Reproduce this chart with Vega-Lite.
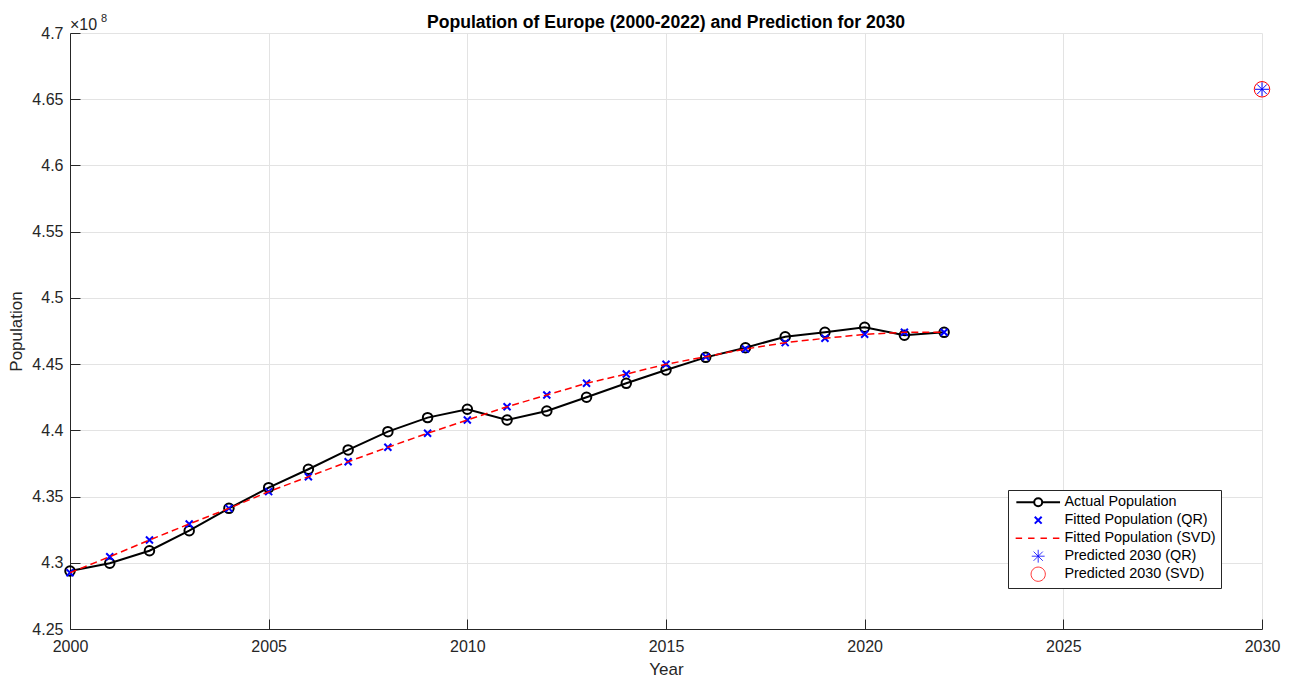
{
  "$schema": "https://vega.github.io/schema/vega-lite/v6.json",
  "width": 1192,
  "height": 596,
  "autosize": {"type": "none"},
  "padding": {"left": 70, "top": 33, "right": 28, "bottom": 53},
  "background": "white",
  "config": {
    "view": {"stroke": null},
    "font": "Liberation Sans",
    "axis": {
      "domainColor": "#262626",
      "domainWidth": 1,
      "tickColor": "#262626",
      "tickSize": -10,
      "gridColor": "#e3e3e3",
      "gridWidth": 1,
      "labelColor": "#262626",
      "labelFont": "Liberation Sans",
      "labelFontSize": 16,
      "titleColor": "#262626",
      "titleFont": "Liberation Sans",
      "titleFontSize": 17,
      "titleFontWeight": "normal"
    }
  },
  "title": {
    "text": "Population of Europe (2000-2022) and Prediction for 2030",
    "font": "Liberation Sans",
    "fontSize": 17.6,
    "fontWeight": "bold",
    "color": "#000000",
    "anchor": "middle",
    "offset": 4,
    "dy": 23
  },
  "datasets": {
    "pop": [
      {"year": 2000, "series": "Actual Population", "population": 429380000},
      {"year": 2001, "series": "Actual Population", "population": 429960000},
      {"year": 2002, "series": "Actual Population", "population": 430910000},
      {"year": 2003, "series": "Actual Population", "population": 432420000},
      {"year": 2004, "series": "Actual Population", "population": 434110000},
      {"year": 2005, "series": "Actual Population", "population": 435670000},
      {"year": 2006, "series": "Actual Population", "population": 437060000},
      {"year": 2007, "series": "Actual Population", "population": 438520000},
      {"year": 2008, "series": "Actual Population", "population": 439900000},
      {"year": 2009, "series": "Actual Population", "population": 440960000},
      {"year": 2010, "series": "Actual Population", "population": 441590000},
      {"year": 2011, "series": "Actual Population", "population": 440780000},
      {"year": 2012, "series": "Actual Population", "population": 441460000},
      {"year": 2013, "series": "Actual Population", "population": 442500000},
      {"year": 2014, "series": "Actual Population", "population": 443550000},
      {"year": 2015, "series": "Actual Population", "population": 444560000},
      {"year": 2016, "series": "Actual Population", "population": 445510000},
      {"year": 2017, "series": "Actual Population", "population": 446240000},
      {"year": 2018, "series": "Actual Population", "population": 447070000},
      {"year": 2019, "series": "Actual Population", "population": 447400000},
      {"year": 2020, "series": "Actual Population", "population": 447780000},
      {"year": 2021, "series": "Actual Population", "population": 447180000},
      {"year": 2022, "series": "Actual Population", "population": 447400000},
      {"year": 2000, "series": "Fitted Population (QR)", "population": 429250000},
      {"year": 2001, "series": "Fitted Population (QR)", "population": 430460000},
      {"year": 2002, "series": "Fitted Population (QR)", "population": 431720000},
      {"year": 2003, "series": "Fitted Population (QR)", "population": 432930000},
      {"year": 2004, "series": "Fitted Population (QR)", "population": 434110000},
      {"year": 2005, "series": "Fitted Population (QR)", "population": 435370000},
      {"year": 2006, "series": "Fitted Population (QR)", "population": 436500000},
      {"year": 2007, "series": "Fitted Population (QR)", "population": 437630000},
      {"year": 2008, "series": "Fitted Population (QR)", "population": 438720000},
      {"year": 2009, "series": "Fitted Population (QR)", "population": 439780000},
      {"year": 2010, "series": "Fitted Population (QR)", "population": 440780000},
      {"year": 2011, "series": "Fitted Population (QR)", "population": 441780000},
      {"year": 2012, "series": "Fitted Population (QR)", "population": 442670000},
      {"year": 2013, "series": "Fitted Population (QR)", "population": 443550000},
      {"year": 2014, "series": "Fitted Population (QR)", "population": 444250000},
      {"year": 2015, "series": "Fitted Population (QR)", "population": 444990000},
      {"year": 2016, "series": "Fitted Population (QR)", "population": 445560000},
      {"year": 2017, "series": "Fitted Population (QR)", "population": 446140000},
      {"year": 2018, "series": "Fitted Population (QR)", "population": 446620000},
      {"year": 2019, "series": "Fitted Population (QR)", "population": 446950000},
      {"year": 2020, "series": "Fitted Population (QR)", "population": 447250000},
      {"year": 2021, "series": "Fitted Population (QR)", "population": 447400000},
      {"year": 2022, "series": "Fitted Population (QR)", "population": 447400000},
      {"year": 2000, "series": "Fitted Population (SVD)", "population": 429250000},
      {"year": 2001, "series": "Fitted Population (SVD)", "population": 430460000},
      {"year": 2002, "series": "Fitted Population (SVD)", "population": 431720000},
      {"year": 2003, "series": "Fitted Population (SVD)", "population": 432930000},
      {"year": 2004, "series": "Fitted Population (SVD)", "population": 434110000},
      {"year": 2005, "series": "Fitted Population (SVD)", "population": 435370000},
      {"year": 2006, "series": "Fitted Population (SVD)", "population": 436500000},
      {"year": 2007, "series": "Fitted Population (SVD)", "population": 437630000},
      {"year": 2008, "series": "Fitted Population (SVD)", "population": 438720000},
      {"year": 2009, "series": "Fitted Population (SVD)", "population": 439780000},
      {"year": 2010, "series": "Fitted Population (SVD)", "population": 440780000},
      {"year": 2011, "series": "Fitted Population (SVD)", "population": 441780000},
      {"year": 2012, "series": "Fitted Population (SVD)", "population": 442670000},
      {"year": 2013, "series": "Fitted Population (SVD)", "population": 443550000},
      {"year": 2014, "series": "Fitted Population (SVD)", "population": 444250000},
      {"year": 2015, "series": "Fitted Population (SVD)", "population": 444990000},
      {"year": 2016, "series": "Fitted Population (SVD)", "population": 445560000},
      {"year": 2017, "series": "Fitted Population (SVD)", "population": 446140000},
      {"year": 2018, "series": "Fitted Population (SVD)", "population": 446620000},
      {"year": 2019, "series": "Fitted Population (SVD)", "population": 446950000},
      {"year": 2020, "series": "Fitted Population (SVD)", "population": 447250000},
      {"year": 2021, "series": "Fitted Population (SVD)", "population": 447400000},
      {"year": 2022, "series": "Fitted Population (SVD)", "population": 447400000},
      {"year": 2030, "series": "Predicted 2030 (QR)", "population": 465750000},
      {"year": 2030, "series": "Predicted 2030 (SVD)", "population": 465750000}
    ],
    "exponent": [
      {"base": "×10", "power": "8"}
    ]
  },
  "data": {"name": "pop"},
  "layer": [
    {
      "transform": [{"filter": "datum.series === 'Actual Population'"}],
      "mark": {"type": "line", "strokeWidth": 2},
      "encoding": {
        "x": {
          "field": "year",
          "type": "quantitative",
          "scale": {"domain": [2000, 2030], "nice": false, "zero": false},
          "axis": {
            "title": "Year",
            "values": [2000, 2005, 2010, 2015, 2020, 2025, 2030],
            "format": "d",
            "labelPadding": 19,
            "titlePadding": 7,
            "labelFlush": false
          }
        },
        "y": {
          "field": "population",
          "type": "quantitative",
          "scale": {"domain": [425000000, 470000000], "nice": false, "zero": false},
          "axis": {
            "title": "Population",
            "values": [425000000, 430000000, 435000000, 440000000, 445000000, 450000000, 455000000, 460000000, 465000000, 470000000],
            "labelExpr": "format(datum.value / 100000000, '.3~g')",
            "labelPadding": 17,
            "titlePadding": 6,
            "labelFlush": false
          }
        },
        "color": {
          "field": "series",
          "type": "nominal",
          "scale": {
            "domain": ["Actual Population", "Fitted Population (QR)", "Fitted Population (SVD)", "Predicted 2030 (QR)", "Predicted 2030 (SVD)"],
            "range": ["#000000", "#0000ff", "#ff0000", "#0000ff", "#ff0000"]
          },
          "legend": {
            "title": null,
            "orient": "bottom-right",
            "offset": 41,
            "direction": "vertical",
            "fillColor": "white",
            "strokeColor": "#262626",
            "padding": 5,
            "labelFont": "Liberation Sans",
            "labelFontSize": 14.4,
            "labelColor": "#000000",
            "labelOffset": 19,
            "symbolOffset": 18,
            "rowPadding": 0,
            "gridAlign": "all",
            "symbolSize": 2116,
            "symbolType": "circle",
            "encode": {
              "symbols": {
                "update": {
                  "shape": {"signal": "datum.value === 'Actual Population' ? 'M-0.95,0H-0.174M0.174,0H0.95M0.174,0A0.174,0.174,0,1,1,-0.174,0A0.174,0.174,0,1,1,0.174,0' : datum.value === 'Fitted Population (QR)' ? 'M-0.15,-0.15L0.15,0.15M-0.15,0.15L0.15,-0.15' : datum.value === 'Fitted Population (SVD)' ? 'M-0.98,0H-0.7M-0.44,0H-0.16M0.1,0H0.38M0.64,0H0.92' : datum.value === 'Predicted 2030 (QR)' ? 'M-0.28,0H0.28M0,-0.28V0.28M-0.2,-0.2L0.2,0.2M-0.2,0.2L0.2,-0.2' : 'M0.31,0A0.31,0.31,0,1,1,-0.31,0A0.31,0.31,0,1,1,0.31,0'"},
                  "stroke": {"signal": "scale('color', datum.value)"},
                  "fill": {"value": "transparent"},
                  "strokeWidth": {"signal": "datum.value === 'Actual Population' || datum.value === 'Fitted Population (QR)' ? 2 : datum.value === 'Fitted Population (SVD)' ? 1.5 : 0.8"},
                  "strokeDash": {"value": []},
                  "opacity": {"value": 1}
                }
              }
            }
          }
        }
      }
    },
    {
      "transform": [{"filter": "datum.series === 'Actual Population'"}],
      "mark": {"type": "point", "shape": "circle", "filled": false, "size": 90, "strokeWidth": 2, "opacity": 1},
      "encoding": {
        "x": {"field": "year", "type": "quantitative"},
        "y": {"field": "population", "type": "quantitative"},
        "color": {"field": "series", "type": "nominal"}
      }
    },
    {
      "transform": [{"filter": "datum.series === 'Fitted Population (QR)'"}],
      "mark": {"type": "point", "shape": "M-1,-1L1,1M-1,1L1,-1", "filled": false, "size": 49, "strokeWidth": 2, "opacity": 1},
      "encoding": {
        "x": {"field": "year", "type": "quantitative"},
        "y": {"field": "population", "type": "quantitative"},
        "color": {"field": "series", "type": "nominal"}
      }
    },
    {
      "transform": [{"filter": "datum.series === 'Fitted Population (SVD)'"}],
      "mark": {"type": "line", "strokeWidth": 1.5, "strokeDash": [7, 4]},
      "encoding": {
        "x": {"field": "year", "type": "quantitative"},
        "y": {"field": "population", "type": "quantitative"},
        "color": {"field": "series", "type": "nominal"}
      }
    },
    {
      "transform": [{"filter": "datum.series === 'Predicted 2030 (QR)'"}],
      "mark": {"type": "point", "shape": "M-1,0H1M0,-1V1M-0.7,-0.7L0.7,0.7M-0.7,0.7L0.7,-0.7", "filled": false, "size": 196, "strokeWidth": 1, "opacity": 1, "clip": false},
      "encoding": {
        "x": {"field": "year", "type": "quantitative"},
        "y": {"field": "population", "type": "quantitative"},
        "color": {"field": "series", "type": "nominal"}
      }
    },
    {
      "transform": [{"filter": "datum.series === 'Predicted 2030 (SVD)'"}],
      "mark": {"type": "point", "shape": "circle", "filled": false, "size": 240, "strokeWidth": 1, "opacity": 1, "clip": false},
      "encoding": {
        "x": {"field": "year", "type": "quantitative"},
        "y": {"field": "population", "type": "quantitative"},
        "color": {"field": "series", "type": "nominal"}
      }
    },
    {
      "data": {"name": "exponent"},
      "mark": {"type": "text", "align": "left", "baseline": "alphabetic", "dx": 0, "dy": -3, "fontSize": 16, "font": "Liberation Sans", "fill": "#262626", "clip": false},
      "encoding": {
        "x": {"datum": 2000, "type": "quantitative"},
        "y": {"datum": 470000000, "type": "quantitative"},
        "text": {"field": "base", "type": "nominal"}
      }
    },
    {
      "data": {"name": "exponent"},
      "mark": {"type": "text", "align": "left", "baseline": "alphabetic", "dx": 31, "dy": -11, "fontSize": 11, "font": "Liberation Sans", "fill": "#262626", "clip": false},
      "encoding": {
        "x": {"datum": 2000, "type": "quantitative"},
        "y": {"datum": 470000000, "type": "quantitative"},
        "text": {"field": "power", "type": "nominal"}
      }
    }
  ]
}
